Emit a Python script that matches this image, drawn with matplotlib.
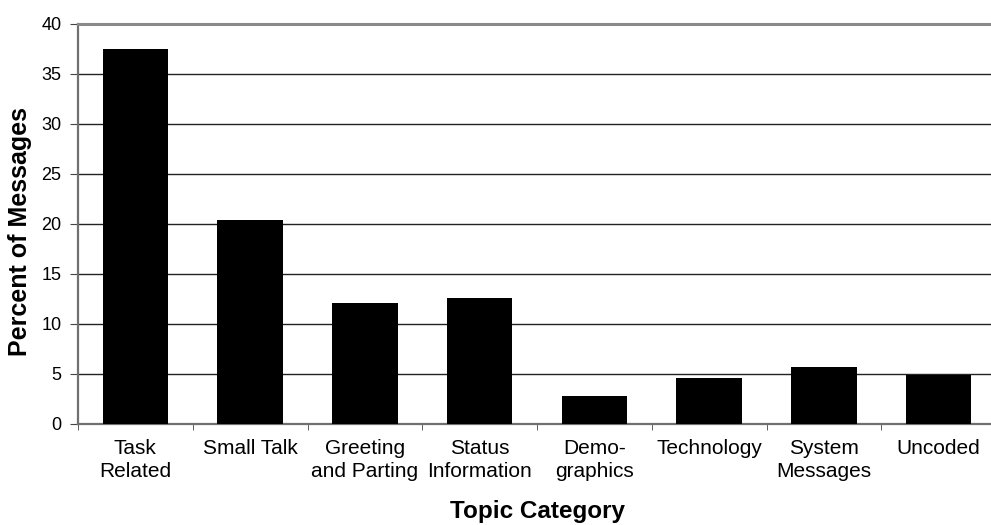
import matplotlib.pyplot as plt
import numpy as np

categories = ["Task\nRelated", "Small Talk", "Greeting\nand Parting", "Status\nInformation",
              "Demo-\ngraphics", "Technology", "System\nMessages", "Uncoded"]
percent = [37.5, 20.4, 12.1, 12.6, 2.8, 4.6, 5.7, 4.9]
yticks = [0, 5, 10, 15, 20, 25, 30, 35, 40]

plt.rcParams['font.family'] = ['Liberation Sans', 'DejaVu Sans']

fig = plt.figure(figsize=(9.91, 5.25), dpi=100)
# plot area runs slightly past the right edge of the figure
ax = fig.add_axes([78 / 991, (525 - 424) / 525, 918 / 991, 400 / 525])

x = np.arange(len(categories))
ax.bar(x, percent, width=0.57, color='black', zorder=3)

ax.set_xlim(-0.5, len(categories) - 0.5)
ax.set_ylim(0, 40)
ax.set_yticks(yticks)
ax.set_yticklabels([str(t) for t in yticks], fontsize=13)

for t in yticks[1:-1]:
    ax.axhline(t, color='#222222', linewidth=1.0, zorder=1)

ax.set_xticks(x)
ax.set_xticklabels(categories, fontsize=15, linespacing=1.25)
ax.set_xticks(np.arange(len(categories) + 1) - 0.5, minor=True)
ax.tick_params(axis='x', which='major', length=0, pad=11)
ax.tick_params(axis='x', which='minor', length=4, direction='out', color='#444444')
ax.tick_params(axis='y', length=6, direction='out', color='#444444', pad=6)

for side in ['left', 'bottom']:
    ax.spines[side].set_color('#707070')
    ax.spines[side].set_linewidth(1.6)
ax.spines['top'].set_color('#8a8a8a')
ax.spines['top'].set_linewidth(2.2)
ax.spines['right'].set_visible(False)

ax.set_ylabel("Percent of Messages", fontsize=18, fontweight='bold')
ax.set_xlabel("Topic Category", fontsize=17.5, fontweight='bold')
ax.yaxis.set_label_coords(-0.050, 0.48)
ax.xaxis.set_label_coords(0.5, -0.19)

fig.savefig("out.png", dpi=100)
